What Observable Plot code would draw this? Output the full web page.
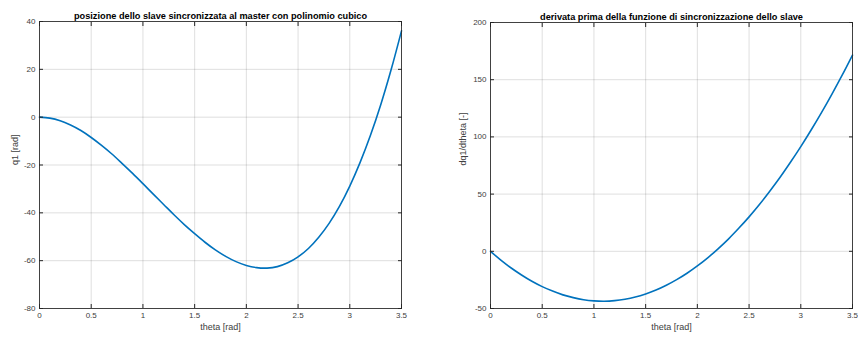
<!DOCTYPE html>
<html><head><meta charset="utf-8">
<script src="https://cdn.jsdelivr.net/npm/d3@7"></script>
<script src="https://cdn.jsdelivr.net/npm/@observablehq/plot@0.6"></script>
<style>
body{margin:0;background:#fff;}
#wrap{display:flex;width:858px;height:338px;overflow:hidden;}
svg{display:block;}
</style></head><body><div id="wrap"></div>
<script>
const theta = [0,0.1,0.2,0.3,0.4,0.5,0.6,0.7,0.8,0.9,1.0,1.1,1.2,1.3,1.4,1.5,1.6,1.7,1.8,1.9,2.0,2.1,2.2,2.3,2.4,2.5,2.6,2.7,2.8,2.9,3.0,3.1,3.2,3.3,3.4,3.5];
const q1 = [0,-0.4,-1.5,-3.3,-5.6,-8.5,-11.8,-15.4,-19.4,-23.5,-27.8,-32.2,-36.5,-40.8,-44.9,-48.7,-52.3,-55.5,-58.2,-60.4,-62.0,-62.9,-63.1,-62.5,-60.9,-58.4,-54.9,-50.2,-44.4,-37.3,-28.8,-18.9,-7.6,5.3,19.9,36.1];
const dq1 = [0,-7.7,-14.6,-20.7,-26.2,-30.9,-34.8,-38.1,-40.5,-42.3,-43.3,-43.6,-43.1,-41.9,-40.0,-37.3,-33.9,-29.7,-24.8,-19.2,-12.8,-5.7,2.2,10.7,20.1,30.1,40.9,52.5,64.7,77.8,91.5,106.0,121.2,137.2,153.9,171.5];
const xTicks = [0,0.5,1,1.5,2,2.5,3,3.5];
const yTicksPos = [-80,-60,-40,-20,0,20,40];
const yTicksDer = [-50,0,50,100,150,200];
const titles = ["posizione dello slave sincronizzata al master con polinomio cubico", "derivata prima della funzione di sincronizzazione dello slave"];
const xLabel = "theta [rad]";
const yLabels = ["q1 [rad]", "dq1/dtheta [-]"];

const rows = theta.map((t, i) => ({theta: t, q1: q1[i], dq1: dq1[i]}));
const font = "'Liberation Sans', Arial, Helvetica, sans-serif";
const ink = "#262626";

function panel({y, yDomain, yTicks, title, ylabel, marginLeft, marginRight, marginTop, ylabDx}) {
  return Plot.plot({
    width: 429, height: 338,
    marginTop, marginBottom: 30, marginLeft, marginRight,
    style: {fontFamily: font, fontSize: "8px", color: ink, background: "#fff", overflow: "visible"},
    x: {domain: [0, 3.5]},
    y: {domain: yDomain},
    marks: [
      Plot.gridX(xTicks, {stroke: ink, strokeOpacity: 0.15}),
      Plot.gridY(yTicks, {stroke: ink, strokeOpacity: 0.15}),
      Plot.line(rows, {x: "theta", y, stroke: "#0072BD", strokeWidth: 1.6, curve: "catmull-rom"}),
      Plot.axisX(xTicks, {anchor: "bottom", tickSize: -4, tickPadding: 8, tickFormat: d => String(d), label: null, fill: "#404040"}),
      Plot.axisX(xTicks, {anchor: "top", tickSize: -4, tickFormat: () => "", label: null}),
      Plot.axisY(yTicks, {anchor: "left", tickSize: -4, tickPadding: 8, tickFormat: d => String(d), label: null, fill: "#404040"}),
      Plot.axisY(yTicks, {anchor: "right", tickSize: -4, tickFormat: () => "", label: null}),
      Plot.frame({stroke: ink, strokeOpacity: 0.85}),
      Plot.text([title], {text: d => d, frameAnchor: "top", dy: -9.5, fontWeight: "bold", fontSize: 9.2, fill: "#000"}),
      Plot.text([xLabel], {text: d => d, frameAnchor: "bottom", dy: 21, fontSize: 9, fill: "#404040"}),
      Plot.text([ylabel], {text: d => d, frameAnchor: "left", rotate: -90, dx: ylabDx, fontSize: 9, fill: "#404040"})
    ]
  });
}

const wrap = document.getElementById("wrap");
wrap.append(panel({y: "q1", yDomain: [-80, 40], yTicks: yTicksPos, title: titles[0], ylabel: yLabels[0], marginLeft: 39, marginRight: 28, marginTop: 21, ylabDx: -24}));
wrap.append(panel({y: "dq1", yDomain: [-50, 200], yTicks: yTicksDer, title: titles[1], ylabel: yLabels[1], marginLeft: 61, marginRight: 6, marginTop: 22, ylabDx: -27}));
</script>
</body></html>
